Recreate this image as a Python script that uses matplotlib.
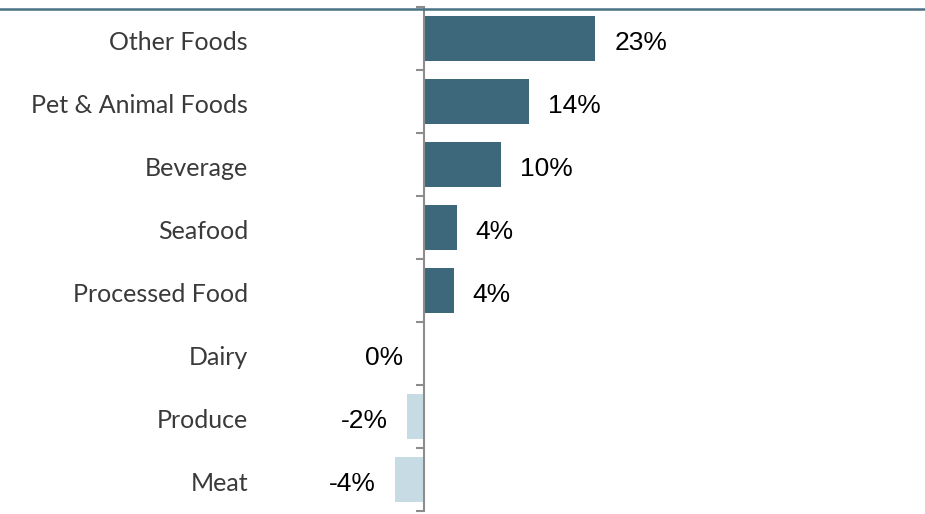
import numpy as np
import matplotlib.pyplot as plt
from matplotlib.lines import Line2D
from matplotlib import transforms


categories = ["Other Foods", "Pet & Animal Foods", "Beverage", "Seafood",
              "Processed Food", "Dairy", "Produce", "Meat"]
values = [23.0, 14.1, 10.3, 4.4, 4.0, -0.2, -2.3, -3.9]
value_labels = ["23%", "14%", "10%", "4%", "4%", "0%", "-2%", "-4%"]

dark = "#3d687c"
light = "#c6dbe3"


def main():
    fig = plt.figure(figsize=(9.25, 5.14), dpi=100)
    W, H = 925, 514
    zero_px = 424
    px_per = 7.45
    left_px = 270
    ax = fig.add_axes([left_px / W, 3 / H, 1 - left_px / W, 504 / H])

    y = np.arange(len(categories))
    colors = [dark if v > 0 else light for v in values]
    ax.barh(y, values, height=0.71, color=colors)

    ax.set_xlim(-(zero_px - left_px) / px_per, (W - zero_px) / px_per)
    ax.set_ylim(len(categories) - 0.5, -0.5)

    for s in ["top", "right", "bottom"]:
        ax.spines[s].set_visible(False)
    ax.spines["left"].set_position(("data", 0))
    ax.spines["left"].set_color("#8c8c8c")
    ax.spines["left"].set_linewidth(1.5)
    ax.set_xticks([])
    ax.set_yticks(np.arange(len(categories) + 1) - 0.5)
    ax.set_yticklabels([])
    ax.tick_params(axis="y", length=5.5, width=1.5, color="#8c8c8c", direction="out")

    gap = 19 / px_per
    for yi, v, lab in zip(y, values, value_labels):
        if v > 0:
            ax.text(v + gap, yi + 0.07, lab, ha="left", va="center", fontsize=19,
                    family="Liberation Sans", color="black")
        else:
            ax.text(v - gap, yi + 0.07, lab, ha="right", va="center", fontsize=19,
                    family="Liberation Sans", color="black")

    trans = transforms.blended_transform_factory(fig.transFigure, ax.transData)
    for yi, cat in zip(y, categories):
        ax.text(248 / W, yi + 0.06, cat, transform=trans, ha="right", va="center",
                fontsize=18, family="Lato", color="#3a3a3a")

    fig.add_artist(Line2D([0, 1], [1 - 9 / H, 1 - 9 / H], transform=fig.transFigure,
                          color="#4a7184", linewidth=1.8))

    fig.savefig("out.png", dpi=100)


if __name__ == '__main__':
    main()
